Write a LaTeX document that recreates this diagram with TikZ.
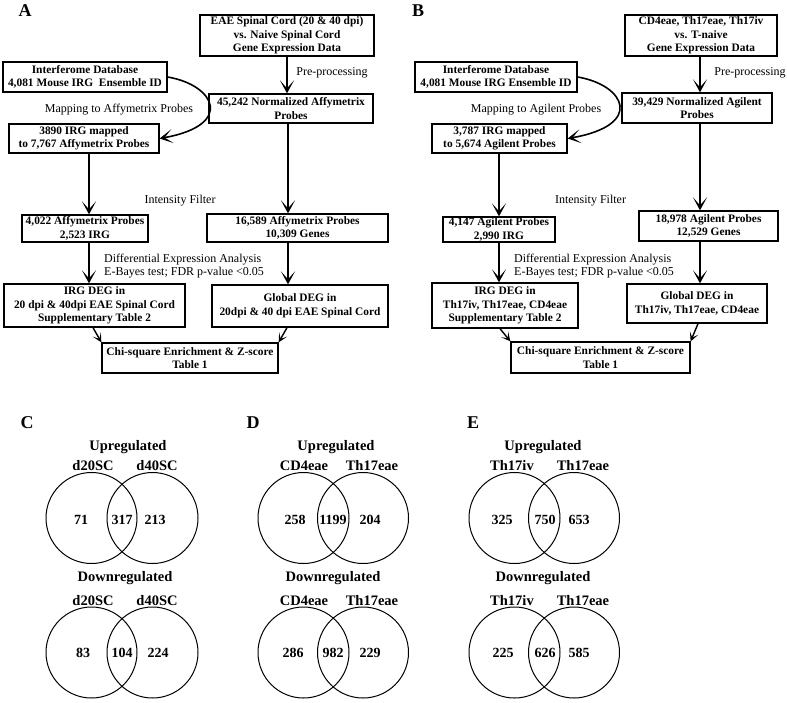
\documentclass[tikz,border=0pt]{standalone}
\usepackage{fontspec}
\setmainfont{Liberation Serif}
\usetikzlibrary{arrows.meta,calc}
\begin{document}
\begin{tikzpicture}[x=1pt,y=-1pt,
  box/.style={draw,line width=1.3pt,align=center,inner sep=0pt,font=\bfseries\fontsize{11.4}{13.5}\selectfont},
  lbl/.style={font=\fontsize{12}{13.5}\selectfont,inner sep=0pt,align=left},
  arr/.style={line width=1.6pt,-{Stealth[length=13pt,width=14pt,inset=8pt]}},
  sarr/.style={line width=1.4pt,-{Stealth[length=9pt,width=9pt,inset=5pt]}},
  pl/.style={font=\bfseries\fontsize{18}{20}\selectfont,inner sep=0pt},
  vc/.style={draw,circle,line width=1pt,minimum size=91pt,inner sep=0pt},
  vt/.style={font=\bfseries\fontsize{14.5}{16}\selectfont,inner sep=0pt},
  vn/.style={font=\bfseries\fontsize{14}{16}\selectfont,inner sep=0pt},
]
\useasboundingbox (0,0) rectangle (787,702);

% ---------------- Panel A ----------------
\node[pl] (lA) at (25,10.5) {A};
\node[box,minimum width=174pt,minimum height=41pt] (eaeA) at (287,35.5) {EAE Spinal Cord (20 \& 40 dpi)\\vs. Naive Spinal Cord\\Gene Expression Data};
\node[box,minimum width=164pt,minimum height=30pt] (interA) at (85,77) {Interferome Database\\4,081 Mouse IRG\ \ Ensemble ID};
\node[box,minimum width=164pt,minimum height=29pt] (normA) at (291,108.5) {45,242 Normalized Affymetrix\\Probes};
\node[box,minimum width=150pt,minimum height=29pt] (irgA) at (84,138.5) {3890 IRG mapped\\to 7,767 Affymetrix Probes};
\node[box,minimum width=126pt,minimum height=27pt] (filtA) at (85,228.5) {4,022 Affymetrix Probes\\2,523 IRG};
\node[box,minimum width=181pt,minimum height=28pt] (geneA) at (297.5,228) {16,589 Affymetrix Probes\\10,309 Genes};
\node[box,minimum width=181pt,minimum height=43pt] (degA) at (94.5,305.5) {IRG DEG in\\20 dpi \& 40dpi EAE Spinal Cord\\Supplementary Table 2};
\node[box,minimum width=176pt,minimum height=42pt] (globA) at (300,306) {Global DEG in\\20dpi \& 40 dpi EAE Spinal Cord};
\node[box,minimum width=176pt,minimum height=30pt] (chiA) at (190,358) {Chi-square Enrichment \& Z-score\\Table 1};

\node[lbl] (ppA) at (332,73) {Pre-processing};
\node[lbl] (mapA) at (119,110) {Mapping to Affymetrix Probes};
\node[lbl] (ifA) at (180,201) {Intensity Filter};
\node[lbl,anchor=west] (deA) at (104,266) {Differential Expression Analysis\\E-Bayes test; FDR p-value <0.05};

\draw[arr] (eaeA.south) -- (eaeA.south |- normA.north);
\draw[arr] (interA.east) .. controls (215,85) and (235,125) .. (irgA.east);
\draw[arr] ([xshift=5pt]irgA.south) -- ([xshift=5pt]irgA.south |- filtA.north);
\draw[arr] ([xshift=4pt]filtA.south) -- ([xshift=4pt]filtA.south |- degA.north);
\draw[arr] ([xshift=-3pt]normA.south) -- ([xshift=-3pt]normA.south |- geneA.north);
\draw[arr] ([xshift=-9.5pt]geneA.south) -- ([xshift=-9.5pt]geneA.south |- globA.north);
\draw[sarr] ([xshift=-1.5pt]degA.south) -- (chiA.north west);
\draw[sarr] ([xshift=-13pt]globA.south) -- (chiA.north east);

% ---------------- Panel B ----------------
\node[pl] (lB) at (418,10.5) {B};
\node[box,minimum width=152pt,minimum height=41pt] (eaeB) at (701,35.5) {CD4eae, Th17eae, Th17iv\\vs. T-naive\\Gene Expression Data};
\node[box,minimum width=162pt,minimum height=30pt] (interB) at (496,77) {Interferome Database\\4,081 Mouse IRG Ensemble ID};
\node[box,minimum width=150pt,minimum height=30pt] (normB) at (697,108) {39,429 Normalized Agilent\\Probes};
\node[box,minimum width=135pt,minimum height=29pt] (irgB) at (499.5,138.5) {3,787 IRG mapped\\to 5,674 Agilent Probes};
\node[box,minimum width=112pt,minimum height=25pt] (filtB) at (499,229.5) {4,147 Agilent Probes\\2,990 IRG};
\node[box,minimum width=139pt,minimum height=30pt] (geneB) at (708.5,226) {18,978 Agilent Probes\\12,529 Genes};
\node[box,minimum width=146pt,minimum height=45pt] (degB) at (505,305.5) {IRG DEG in\\Th17iv, Th17eae, CD4eae\\Supplementary Table 2};
\node[box,minimum width=140pt,minimum height=39pt] (globB) at (697,303.5) {Global DEG in\\Th17iv, Th17eae, CD4eae};
\node[box,minimum width=179pt,minimum height=31pt] (chiB) at (600.5,357.5) {Chi-square Enrichment \& Z-score\\Table 1};

\node[lbl] (ppB) at (750,73) {Pre-processing};
\node[lbl] (mapB) at (536,110) {Mapping to Agilent Probes};
\node[lbl] (ifB) at (590.5,201) {Intensity Filter};
\node[lbl,anchor=west] (deB) at (514,266) {Differential Expression Analysis\\E-Bayes test; FDR p-value <0.05};

\draw[arr] ([xshift=-1pt]eaeB.south) -- ([xshift=-1pt]eaeB.south |- normB.north);
\draw[arr] (interB.east) .. controls (625,85) and (645,125) .. (irgB.east);
\draw[arr] ([xshift=-0.5pt]irgB.south) -- ([xshift=-0.5pt]irgB.south |- filtB.north);
\draw[arr] (filtB.south) -- (filtB.south |- degB.north);
\draw[arr] ([xshift=3pt]normB.south) -- ([xshift=3pt]normB.south |- geneB.north);
\draw[arr] ([xshift=-8.5pt]geneB.south) -- ([xshift=-8.5pt]geneB.south |- globB.north);
\draw[sarr] ([xshift=-5pt]degB.south) -- (chiB.north west);
\draw[sarr] ([xshift=1pt]globB.south) -- (chiB.north east);

% ---------------- Panel C ----------------
\node[pl] (lC) at (27,423) {C};
\node[vt] (upC) at (128,447) {Upregulated};
\node[vt] (uC1) at (93,466) {d20SC};
\node[vt] (uC2) at (157,466) {d40SC};
\node[vc] (cuC1) at (91.5,518) {};
\node[vc] (cuC2) at (152.5,518) {};
\node[vn] at (81,520) {71};
\node[vn] at (122,520) {317};
\node[vn] at (155,520) {213};
\node[vt] (dnC) at (125,578) {Downregulated};
\node[vt] (dC1) at (93,601) {d20SC};
\node[vt] (dC2) at (157,601) {d40SC};
\node[vc] (cdC1) at (91.5,652.5) {};
\node[vc] (cdC2) at (152.5,652.5) {};
\node[vn] at (83,653) {83};
\node[vn] at (122,653) {104};
\node[vn] at (158,653) {224};

% ---------------- Panel D ----------------
\node[pl] (lD) at (253,423) {D};
\node[vt] (upD) at (336,447) {Upregulated};
\node[vt] (uD1) at (304,466) {CD4eae};
\node[vt] (uD2) at (372,466) {Th17eae};
\node[vc] (cuD1) at (303.5,518) {};
\node[vc] (cuD2) at (363,518) {};
\node[vn] at (295,520) {258};
\node[vn] at (333,520) {1199};
\node[vn] at (370,520) {204};
\node[vt] (dnD) at (333,578) {Downregulated};
\node[vt] (dD1) at (304,601) {CD4eae};
\node[vt] (dD2) at (372,601) {Th17eae};
\node[vc] (cdD1) at (303.5,652.5) {};
\node[vc] (cdD2) at (363,652.5) {};
\node[vn] at (293,653) {286};
\node[vn] at (333,653) {982};
\node[vn] at (370,653) {229};

% ---------------- Panel E ----------------
\node[pl] (lE) at (473,423) {E};
\node[vt] (upE) at (543,447) {Upregulated};
\node[vt] (uE1) at (512,466) {Th17iv};
\node[vt] (uE2) at (583,466) {Th17eae};
\node[vc] (cuE1) at (514.5,518) {};
\node[vc] (cuE2) at (574,518) {};
\node[vn] at (502,520) {325};
\node[vn] at (545,520) {750};
\node[vn] at (579,520) {653};
\node[vt] (dnE) at (543,578) {Downregulated};
\node[vt] (dE1) at (512,601) {Th17iv};
\node[vt] (dE2) at (583,601) {Th17eae};
\node[vc] (cdE1) at (514.5,652.5) {};
\node[vc] (cdE2) at (574,652.5) {};
\node[vn] at (503,653) {225};
\node[vn] at (545,653) {626};
\node[vn] at (579,653) {585};
\end{tikzpicture}
\end{document}
